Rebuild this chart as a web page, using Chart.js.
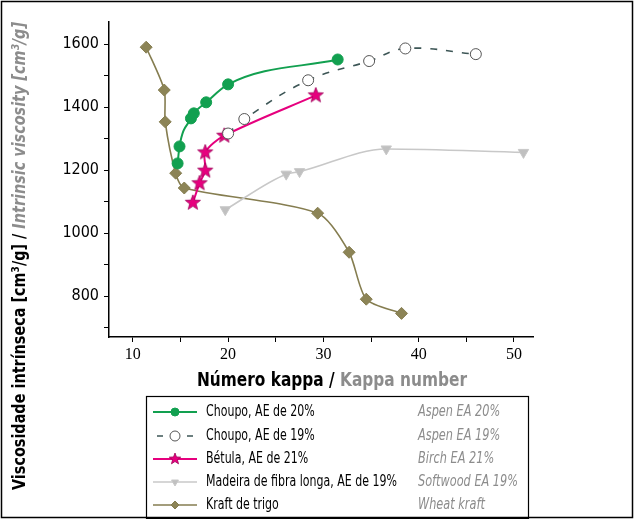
<!DOCTYPE html>
<html>
<head>
<meta charset="utf-8">
<script src="https://cdn.jsdelivr.net/npm/chart.js@4/dist/chart.umd.min.js"></script>
<style>
    html, body { margin: 0; padding: 0; background: #fff; }
    #wrap { width: 636px; height: 519px; position: relative; }
</style>
</head>
<body>
<div id="wrap"><canvas id="chart" width="636" height="519"></canvas></div>
<script>
/*** Data ***/
const kappaAspen20 = [14.7, 14.9, 16.1, 16.4, 17.7, 20.0, 31.5];
const viscAspen20 = [1221, 1275, 1364, 1380, 1415, 1472, 1551];
const kappaAspen19 = [20.0, 21.7, 28.4, 34.8, 38.6, 46.0];
const viscAspen19 = [1316, 1362, 1485, 1546, 1586, 1568];
const kappaBirch21 = [16.3, 17.0, 17.6, 17.6, 19.6, 29.2];
const viscBirch21 = [1096, 1158, 1198, 1256, 1309, 1437];
const kappaSoftwood19 = [19.7, 26.1, 27.5, 36.6, 51.0];
const viscSoftwood19 = [1074, 1187, 1195, 1267, 1256];
const kappaWheat = [11.4, 13.3, 13.4, 14.5, 15.4, 29.4, 32.7, 34.5, 38.2];
const viscWheat = [1590, 1454, 1353, 1190, 1143, 1063, 939, 790, 745];

const yTickLabels = [800, 1000, 1200, 1400, 1600];
const yMinorTicks = [700, 900, 1100, 1300, 1500];
const xTickLabels = [10, 20, 30, 40, 50];

const labelsPt = ["Choupo, AE de 20%", "Choupo, AE de 19%", "Bétula, AE de 21%", "Madeira de fibra longa, AE de 19%", "Kraft de trigo"];
const labelsEn = ["Aspen EA 20%", "Aspen EA 19%", "Birch EA 21%", "Softwood EA 19%", "Wheat kraft"];

const NARROW = "'Liberation Sans Narrow', 'DejaVu Sans Condensed', 'Arial Narrow', sans-serif";

const toPoints = (xs, ys) => xs.map((x, i) => ({ x: x, y: ys[i] }));

// filled five-point star used as the birch marker
function makeStar(r, fill, stroke) {
    const c = document.createElement("canvas");
    c.width = c.height = r * 2 + 2;
    const g = c.getContext("2d");
    g.beginPath();
    for (let i = 0; i < 10; i++) {
        const rad = i % 2 === 0 ? r : r * 0.42;
        const a = -Math.PI / 2 + i * Math.PI / 5;
        g.lineTo(r + 1 + rad * Math.cos(a), r + 1 + rad * Math.sin(a));
    }
    g.closePath();
    g.fillStyle = fill;
    g.fill();
    g.strokeStyle = stroke;
    g.lineWidth = 0.8;
    g.stroke();
    return c;
}
const starImg = makeStar(8, "#e6007e", "#a0005a");
const starSmall = makeStar(6, "#e6007e", "#a0005a");

const datasets = [
    {
        data: toPoints(kappaAspen20, viscAspen20),
        borderColor: "#12a050", backgroundColor: "#12a050", borderWidth: 2,
        pointStyle: "circle", pointRadius: 5.5, pointBorderWidth: 1,
        cubicInterpolationMode: "monotone"
    },
    {
        data: toPoints(kappaAspen19, viscAspen19),
        borderColor: "#3d5656", backgroundColor: "#fff", borderWidth: 1.6, borderDash: [7, 9],
        pointStyle: "circle", pointRadius: 5.5, pointBorderWidth: 1, pointBorderColor: "#555",
        tension: 0.4
    },
    {
        data: toPoints(kappaBirch21, viscBirch21),
        borderColor: "#e6007e", backgroundColor: "#e6007e", borderWidth: 2,
        pointStyle: starImg, pointRadius: 8,
        tension: 0.3
    },
    {
        data: toPoints(kappaSoftwood19, viscSoftwood19),
        borderColor: "#c8c8c8", backgroundColor: "#c0c0c0", borderWidth: 1.6,
        pointStyle: "triangle", pointRotation: 180, pointRadius: 6, pointBorderWidth: 1,
        cubicInterpolationMode: "monotone"
    },
    {
        data: toPoints(kappaWheat, viscWheat),
        borderColor: "#857d50", backgroundColor: "#8c8456", borderWidth: 1.6,
        pointStyle: "rectRot", pointRadius: 6, pointBorderWidth: 1,
        tension: 0.25
    }
];

/*** Titles, legend and frame ***/
// draws runs of text squeezed horizontally so the whole run takes `width` px
function drawRun(ctx, pieces, x, y, width) {
    const natural = pieces.reduce((w, p) => { ctx.font = p.font; return w + ctx.measureText(p.text).width; }, 0);
    const k = width / natural;
    ctx.save();
    ctx.translate(x, y);
    ctx.scale(k, 1);
    let cx = 0;
    pieces.forEach(p => {
        ctx.font = p.font;
        ctx.fillStyle = p.color;
        ctx.fillText(p.text, cx, 0);
        cx += ctx.measureText(p.text).width;
    });
    ctx.restore();
}

const extrasPlugin = {
    id: "extras",
    afterDraw(chart) {
        const ctx = chart.ctx;
        ctx.save();
        ctx.textBaseline = "middle";
        ctx.textAlign = "left";

        // x axis title
        drawRun(ctx, [
            { text: "Número kappa / ", font: "bold 19px " + NARROW, color: "#000" },
            { text: "Kappa number", font: "bold 19px " + NARROW, color: "#8c8c8c" }
        ], 197, 381, 270);

        // y axis title, rotated
        ctx.save();
        ctx.translate(20, 490);
        ctx.rotate(-Math.PI / 2);
        drawRun(ctx, [
            { text: "Viscosidade intrínseca [cm³/g] / ", font: "bold 18px " + NARROW, color: "#000" },
            { text: "Intrinsic viscosity [cm³/g]", font: "italic bold 18px " + NARROW, color: "#8c8c8c" }
        ], 0, 0, 468);
        ctx.restore();

        // legend box
        ctx.strokeStyle = "#000";
        ctx.lineWidth = 1.2;
        ctx.strokeRect(146.5, 396.5, 382, 122);
        const rowY = [412, 436, 459, 482, 505];
        ctx.font = "15px " + NARROW;
        const kPt = 191 / ctx.measureText(labelsPt[3]).width;
        ctx.font = "italic 15px " + NARROW;
        const kEn = 100 / ctx.measureText(labelsEn[3]).width;
        chart.data.datasets.forEach((ds, i) => {
            const y = rowY[i];
            ctx.save();
            ctx.strokeStyle = ds.borderColor;
            ctx.lineWidth = ds.borderWidth;
            ctx.setLineDash(ds.borderDash ? [6, 9] : []);
            ctx.beginPath();
            ctx.moveTo(ds.borderDash ? 157 : 153, y);
            ctx.lineTo(197, y);
            ctx.stroke();
            ctx.setLineDash([]);
            if (ds.borderDash) {
                ctx.fillStyle = "#fff";
                ctx.fillRect(168, y - 6, 14, 12);
            }
            ctx.fillStyle = ds.backgroundColor;
            ctx.strokeStyle = ds.pointBorderColor || ds.borderColor;
            ctx.lineWidth = 1;
            const style = typeof ds.pointStyle === "string" ? ds.pointStyle : starSmall;
            Chart.helpers.drawPoint(ctx, { pointStyle: style, rotation: ds.pointRotation || 0, radius: ds.borderDash ? 5 : 4, borderWidth: 1 }, 175, y);
            ctx.restore();

            ctx.save();
            ctx.translate(206, y);
            ctx.scale(kPt, 1);
            ctx.font = "15px " + NARROW;
            ctx.fillStyle = "#000";
            ctx.fillText(labelsPt[i], 0, 0);
            ctx.restore();

            ctx.save();
            ctx.translate(418, y);
            ctx.scale(kEn, 1);
            ctx.font = "italic 15px " + NARROW;
            ctx.fillStyle = "#8c8c8c";
            ctx.fillText(labelsEn[i], 0, 0);
            ctx.restore();
        });

        // outer frame
        ctx.lineWidth = 1.5;
        ctx.strokeStyle = "#000";
        ctx.strokeRect(1.5, 1.5, 631, 516);
        ctx.restore();
    }
};

new Chart(document.getElementById("chart"), {
    type: "scatter",
    data: { datasets: datasets.map(d => Object.assign({ showLine: true }, d)) },
    plugins: [extrasPlugin],
    options: {
        responsive: false,
        animation: false,
        layout: { padding: { left: 0, top: 22, right: 103, bottom: 152 } },
        plugins: { legend: { display: false }, tooltip: { enabled: false } },
        scales: {
            x: {
                type: "linear", min: 7.5, max: 52,
                afterFit: s => { s.height = 30; },
                border: { display: true, color: "#000", width: 1.5 },
                grid: { display: true, drawOnChartArea: false, drawTicks: true, tickLength: 5, color: "#000", tickColor: "#000" },
                ticks: {
                    stepSize: 5, includeBounds: false, autoSkip: false, padding: 3, color: "#000",
                    font: { family: "'Liberation Serif', serif", size: 16 },
                    callback: v => xTickLabels.includes(Math.round(v)) && Math.abs(v - Math.round(v)) < 1e-6 ? String(Math.round(v)) : ""
                }
            },
            y: {
                type: "linear", min: 670, max: 1670,
                afterFit: s => { s.width = 109; },
                // major and minor tick positions taken from the tick lists
                afterBuildTicks: s => {
                    s.ticks = yTickLabels.concat(yMinorTicks).sort((a, b) => a - b).map(v => ({ value: v }));
                },
                border: { display: true, color: "#000", width: 1.5 },
                grid: { display: true, drawOnChartArea: false, drawTicks: true, tickLength: 5, color: "#000", tickColor: "#000" },
                ticks: {
                    autoSkip: false, padding: 5, color: "#000",
                    font: { family: NARROW, size: 16 },
                    callback: v => yTickLabels.includes(v) ? String(v) : ""
                }
            }
        }
    }
});
</script>
</body>
</html>
